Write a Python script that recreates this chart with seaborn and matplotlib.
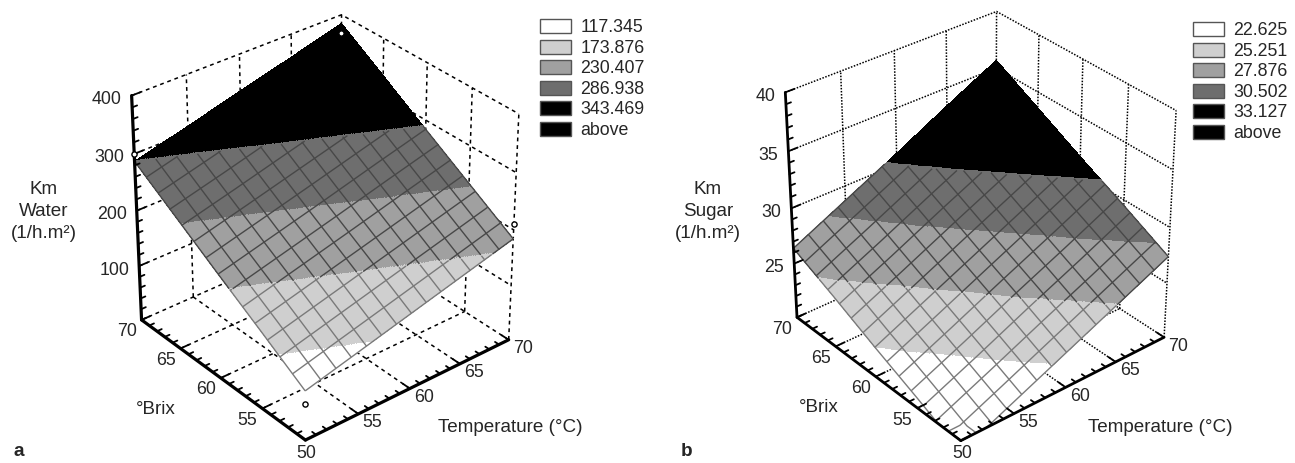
import numpy as np
import matplotlib
matplotlib.use("Agg")
import matplotlib.pyplot as plt
from matplotlib.patches import Patch
from mpl_toolkits.mplot3d import proj3d
import seaborn as sns

# valores
temperature = [50, 55, 60, 65, 70]
brix = [50, 55, 60, 65, 70]

# filas = brix, columnas = temperatura
water_km = [
    [88, 112, 136, 160, 184],
    [138, 162, 186, 210, 234],
    [187, 211, 235, 260, 284],
    [237, 261, 286, 310, 335],
    [287, 311, 336, 360, 385],
]
sugar_km = [
    [19.0, 21.1, 23.2, 25.3, 27.4],
    [20.9, 23.0, 25.2, 27.3, 29.5],
    [22.7, 24.9, 27.1, 29.3, 31.5],
    [24.6, 26.8, 29.1, 31.3, 33.6],
    [26.4, 28.7, 31.0, 33.4, 35.7],
]
water_levels = [117.345, 173.876, 230.407, 286.938, 343.469]
sugar_levels = [22.625, 25.251, 27.876, 30.502, 33.127]
water_ticks = [100, 200, 300, 400]
sugar_ticks = [25, 30, 35, 40]

# puntos observados (solo panel a)
point_temp = [70, 50, 70, 50]
point_brix = [70, 70, 50, 50]
point_water = [368, 300, 210, 65]

W, H = 1295, 463
FONT = 12.8
sns.set_theme(style="white")
plt.rcParams["font.family"] = ["Liberation Sans", "DejaVu Sans"]
plt.rcParams["font.size"] = FONT
band_colors = sns.color_palette(["#ffffff", "#cfcfcf", "#a0a0a0", "#6e6e6e", "#000000", "#000000"])

fig = plt.figure(figsize=(W / 100, H / 100), dpi=100)


def fine_surface(values, zmin):
    # remuestreo de la tabla para pintar las bandas y la malla
    t = np.linspace(50, 70, 281)
    rows = np.array([np.interp(t, temperature, r) for r in values])
    z = np.array([np.interp(t, brix, rows[:, j]) for j in range(t.size)]).T
    return t, np.maximum(z, zmin)


def draw_panel(cx, cy, view, values, levels, zticks, zmin, zmax, zminor, ls, lw_axis, ylabel,
               legend_xy, lab_x, brix_xy, temp_xy, letter, letter_x):
    L = 480
    ax = fig.add_axes([(cx - L / 2) / W, 1 - (cy + L / 2) / H, L / W, L / H],
                      projection="3d", computed_zorder=False)
    ax.set_xlim(50, 70)
    ax.set_ylim(50, 70)
    ax.set_zlim(zmin, zmax)
    ax.set_box_aspect((1, 1, view[3]), zoom=view[4])
    ax.view_init(elev=view[0], azim=view[1])
    ax.set_proj_type("persp", focal_length=view[2])
    ax.set_axis_off()
    ax.patch.set_alpha(0)

    # caja de fondo
    dash = dict(color="black", lw=1.1, ls=ls, zorder=1)
    for v in [55, 60, 65]:
        ax.plot([v, v], [70, 70], [zmin, zmax], **dash)
        ax.plot([70, 70], [v, v], [zmin, zmax], **dash)
        ax.plot([v, v], [50, 70], [zmin, zmin], **dash)
        ax.plot([50, 70], [v, v], [zmin, zmin], **dash)
    for z in zticks:
        ax.plot([50, 70, 70], [70, 70, 50], [z, z, z], **dash)
    ax.plot([70, 70], [70, 70], [zmin, zmax], **dash)
    ax.plot([70, 70], [50, 50], [zmin, zmax], **dash)
    ax.plot([50, 70], [70, 70], [zmin, zmin], **dash)
    ax.plot([70, 70], [50, 70], [zmin, zmin], **dash)

    # superficie por bandas
    t, z = fine_surface(values, zmin)
    tt, bb = np.meshgrid(t, t)
    faces = np.array(band_colors)[np.searchsorted(levels, z)]
    ax.plot_surface(tt, bb, z, facecolors=faces, rstride=1, cstride=1, shade=False,
                    linewidth=0, antialiased=False, zorder=2)
    # la malla no se ve sobre el negro y es mas clara en las bandas bajas
    dark = np.where((z > levels[3]) | (z < levels[1]), np.nan, z)
    light = np.where(z > levels[1], np.nan, z)
    ax.plot_wireframe(tt, bb, dark, rstride=20, cstride=20, color="#484848", linewidth=1.0, zorder=3)
    ax.plot_wireframe(tt, bb, light, rstride=20, cstride=20, color="#7a7a7a", linewidth=1.0, zorder=3)

    # ejes gruesos
    solid = dict(color="black", lw=lw_axis, zorder=4, solid_capstyle="round")
    ax.plot([50, 50], [70, 70], [zmin, zmax], **solid)
    ax.plot([50, 50], [50, 70], [zmin, zmin], **solid)
    ax.plot([50, 70], [50, 50], [zmin, zmin], **solid)
    thin = dict(color="black", lw=1.3, zorder=4)
    for v in range(50, 71):
        n = 0.8 if v % 5 == 0 else 0.45
        ax.plot([50, 50 + n], [v, v], [zmin, zmin], **thin)
        ax.plot([v, v], [50, 50 + n], [zmin, zmin], **thin)
    for v in np.arange(zmin, zmax + zminor / 2, zminor):
        n = 0.8 if v in zticks else 0.45
        ax.plot([50, 50 + n], [70, 70], [v, v], **thin)

    # etiquetas de los ejes
    M = ax.get_proj()

    def label(x, y, z, s, dx, dy, ha="center"):
        xp, yp, _ = proj3d.proj_transform(x, y, z, M)
        ax.annotate(s, (xp, yp), xytext=(dx, dy), textcoords="offset pixels", ha=ha, va="center",
                    annotation_clip=False)

    for v in [55, 60, 65, 70]:
        label(50, v, zmin, str(v), -15, -12)
        label(v, 50, zmin, str(v), 14, -9)
    label(50, 50, zmin, "50", 1, -13)
    for v in zticks:
        label(50, 70, v, str(v), -10, -4, ha="right")

    for i, s in enumerate(ylabel):
        fig.text(lab_x / W, 1 - (190 + 21.7 * i) / H, s, ha="center", va="center", fontsize=13.6)
    fig.text(brix_xy[0] / W, 1 - brix_xy[1] / H, "°Brix", ha="center", va="center", fontsize=13.6)
    fig.text(temp_xy[0] / W, 1 - temp_xy[1] / H, "Temperature (°C)", ha="center", va="center",
             fontsize=13.6)
    fig.text(letter_x / W, 1 - 451 / H, letter, ha="center", va="center", fontweight="bold",
             fontsize=13.6)

    # leyenda
    labels = [f"{v:.3f}" for v in levels] + ["above"]
    handles = [Patch(facecolor=c, edgecolor="#555555", linewidth=1) for c in band_colors]
    fig.legend(handles, labels, loc="upper left",
               bbox_to_anchor=(legend_xy[0] / W, 1 - legend_xy[1] / H),
               frameon=False, borderpad=0, borderaxespad=0, handlelength=1.77, handleheight=0.84,
               labelspacing=0.19, handletextpad=0.5, fontsize=FONT)
    return ax


ax_a = draw_panel(317.6, 226.7, (32.02, -129.53, 1.018, 0.991, 0.935), water_km, water_levels,
                  water_ticks, 0, 400, 20, (0, (2.5, 2.5)), 2.3, ["Km", "Water", "(1/h.m²)"],
                  (540, 19), 44, (156, 409), (510, 428), "a", 19)
ax_a.scatter(point_temp, point_brix, point_water, s=14, facecolors="white", edgecolors="black",
             linewidths=1, depthshade=False, zorder=5)

draw_panel(972.9, 224.3, (32.41, -129.61, 0.883, 0.994, 0.94), sugar_km, sugar_levels,
           sugar_ticks, 20, 40, 1, (0, (1, 1)), 2.0, ["Km", "Sugar", "(1/h.m²)"],
           (1193, 22), 708, (819, 407), (1160, 428), "b", 687)

fig.savefig("out.png", dpi=100)
